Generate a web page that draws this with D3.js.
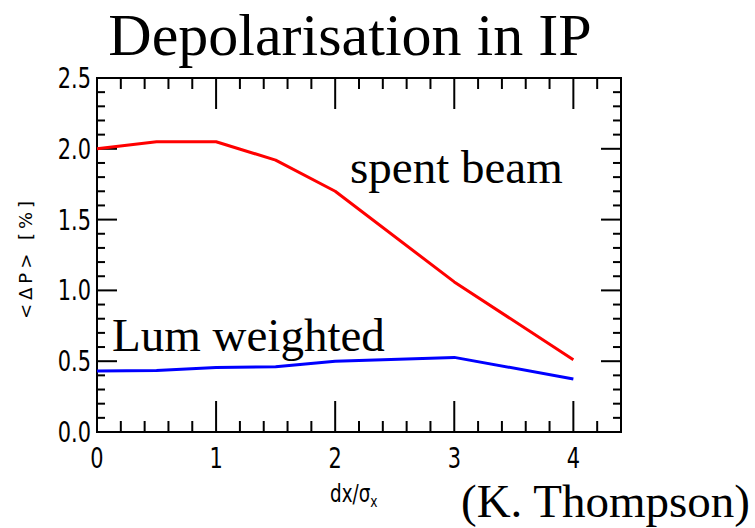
<!DOCTYPE html>
<html>
<head>
  <script src="https://cdnjs.cloudflare.com/ajax/libs/d3/7.8.5/d3.min.js"></script>
  <style>
    body { margin: 0; background: #fff; }
    .serif { font-family: "Liberation Serif", "Times New Roman", serif; fill: #000; }
    .tick-label { font-family: "DejaVu Sans Condensed", "DejaVu Sans", sans-serif; font-weight: 200; font-size: 29px; fill: #000; }
    .series { fill: none; stroke-width: 3; stroke-linejoin: round; }
  </style>
</head>
<body>
  <div id="chart"></div>
  <script>
    // data
    const dx = [0, 0.5, 1, 1.5, 2, 3, 4];
    const spentBeam = [2.00, 2.05, 2.05, 1.92, 1.70, 1.06, 0.51];
    const lumWeighted = [0.43, 0.435, 0.455, 0.46, 0.50, 0.527, 0.375];
    const xTicks = [0, 1, 2, 3, 4];
    const yTicks = [0.0, 0.5, 1.0, 1.5, 2.0, 2.5];

    const W = 755, H = 528;
    const plotL = 97, plotR = 621, plotT = 78, plotB = 432;

    const svg = d3.select("#chart").append("svg")
      .attr("width", W).attr("height", H);

    const x = d3.scaleLinear().domain([0, 4.4]).range([plotL, plotR]);
    const y = d3.scaleLinear().domain([0, 2.5]).range([plotB, plotT]);

    // frame
    svg.append("rect")
      .attr("x", plotL).attr("y", plotT)
      .attr("width", plotR - plotL).attr("height", plotB - plotT)
      .attr("fill", "none").attr("stroke", "#000").attr("stroke-width", 2);

    // ticks: minor 0.2 on x, 0.1 on y
    const xMinor = d3.range(0, 4.41, 0.2).map(v => +v.toFixed(2));
    const yMinor = d3.range(0, 2.51, 0.1).map(v => +v.toFixed(2));
    const isMajorX = v => Math.abs(v - Math.round(v)) < 1e-6;
    const isMajorY = v => Math.abs(v * 2 - Math.round(v * 2)) < 1e-6;

    const ticks = svg.append("g").attr("stroke", "#000").attr("stroke-width", 2);
    xMinor.forEach(v => {
      const len = isMajorX(v) ? 31 : 11;
      ticks.append("line").attr("x1", x(v)).attr("x2", x(v)).attr("y1", plotB).attr("y2", plotB - len);
      ticks.append("line").attr("x1", x(v)).attr("x2", x(v)).attr("y1", plotT).attr("y2", plotT + len);
    });
    yMinor.forEach(v => {
      const len = isMajorY(v) ? 20 : 8;
      ticks.append("line").attr("x1", plotL).attr("x2", plotL + len).attr("y1", y(v)).attr("y2", y(v));
      ticks.append("line").attr("x1", plotR).attr("x2", plotR - len).attr("y1", y(v)).attr("y2", y(v));
    });

    // tick labels, squeezed horizontally like the plotter font
    svg.selectAll(".xl").data(xTicks).join("text")
      .attr("class", "tick-label")
      .attr("transform", d => `translate(${x(d)},468) scale(0.8,1)`)
      .attr("text-anchor", "middle")
      .text(d => d3.format("d")(d));

    svg.selectAll(".yl").data(yTicks).join("text")
      .attr("class", "tick-label")
      .attr("transform", d => `translate(91,${y(d) + 10}) scale(0.8,1)`)
      .attr("text-anchor", "end")
      .text(d => d3.format(".1f")(d));

    // axis titles
    svg.append("text")
      .attr("transform", "translate(32,258) rotate(-90)")
      .attr("text-anchor", "middle")
      .style("font-family", "DejaVu Sans, sans-serif")
      .style("font-size", "18px")
      .style("letter-spacing", "4px")
      .text("<\u0394P> [%]");

    const xt = svg.append("text")
      .attr("transform", "translate(330,502) scale(0.85,1)")
      .style("font-family", "DejaVu Sans Condensed, sans-serif")
      .style("font-weight", 200)
      .style("font-size", "24px");
    xt.append("tspan").text("dx/\u03c3");
    xt.append("tspan").attr("dy", 5).style("font-size", "16px").text("x");

    // lines
    const line = d3.line().x((d, i) => x(dx[i])).y(d => y(d));
    svg.append("path").datum(spentBeam).attr("class", "series")
      .attr("stroke", "#ff0000").attr("d", line);
    svg.append("path").datum(lumWeighted).attr("class", "series")
      .attr("stroke", "#0000ff").attr("d", line);

    // annotations
    svg.append("text").attr("class", "serif")
      .attr("x", 350).attr("y", 55).attr("text-anchor", "middle")
      .style("font-size", "60px").text("Depolarisation in IP");
    svg.append("text").attr("class", "serif")
      .attr("x", 350).attr("y", 183)
      .style("font-size", "47px").text("spent beam");
    svg.append("text").attr("class", "serif")
      .attr("x", 112).attr("y", 351)
      .style("font-size", "47px").text("Lum weighted");
    svg.append("text").attr("class", "serif")
      .attr("x", 750).attr("y", 517).attr("text-anchor", "end")
      .style("font-size", "47px").text("(K. Thompson)");
  </script>
</body>
</html>
